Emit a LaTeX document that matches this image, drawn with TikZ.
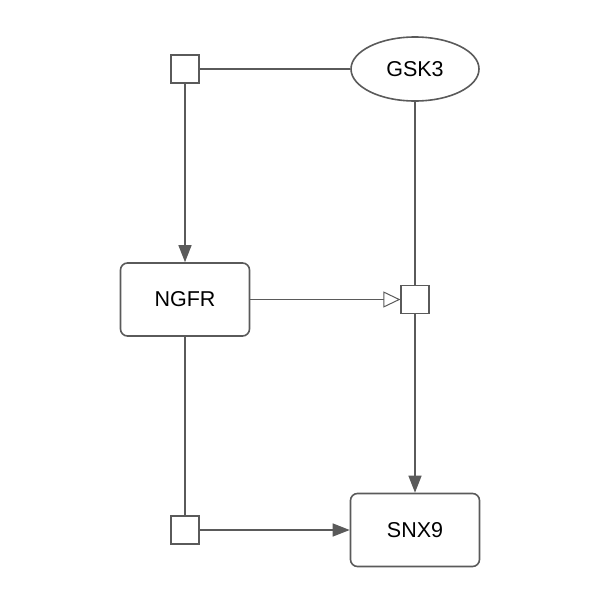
\documentclass[tikz,border=0pt]{standalone}
\usepackage{fontspec}
\setmainfont{Liberation Sans}
\usetikzlibrary{shapes.geometric,arrows.meta}
\definecolor{ln}{RGB}{90,90,90}
\begin{document}
\begin{tikzpicture}[x=1pt,y=-1pt,
  every node/.style={draw=ln,line width=1.6pt,font=\fontsize{21.5}{25}\selectfont,inner sep=0pt},
  entity/.style={rectangle,rounded corners=7pt,minimum width=129pt,minimum height=73pt},
  blob/.style={ellipse,minimum width=128pt,minimum height=64pt},
  proc/.style={rectangle,minimum width=28pt,minimum height=28pt,line width=1.2pt},
  conn/.style={draw=ln,line width=1.3pt},
  fill arrow/.style={conn,-{Triangle[length=17pt,width=13pt,fill=ln]}},
  open arrow/.style={conn,-{Triangle[open,length=17pt,width=16pt,fill=white,line width=1pt]}}]
\useasboundingbox (0,0) rectangle (600,600);
\node[blob] (gsk) at (415,69) {GSK3};
\node[proc] (p1) at (185,69) {};
\node[entity] (ngfr) at (185,299.5) {NGFR};
\node[proc] (p2) at (415,299.5) {};
\node[entity] (snx) at (415,530) {SNX9};
\node[proc] (p3) at (185,530) {};
\draw[conn] (p1) -- (gsk);
\draw[fill arrow] (p1) -- (ngfr);
\draw[conn] (gsk) -- (p2);
\draw[open arrow] (ngfr) -- (p2);
\draw[fill arrow] (p2) -- (snx);
\draw[conn] (ngfr) -- (p3);
\draw[fill arrow] (p3) -- (snx);
\end{tikzpicture}
\end{document}
